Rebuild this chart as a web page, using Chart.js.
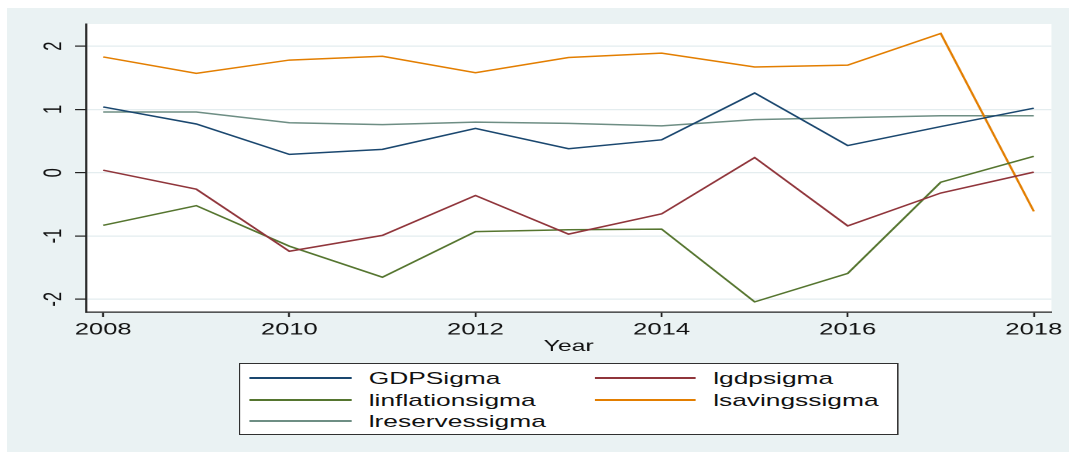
<!DOCTYPE html>
<html>
<head>
<meta charset="utf-8">
<script src="https://cdn.jsdelivr.net/npm/chart.js@4.4.1/dist/chart.umd.min.js"></script>
<style>
  html, body { margin: 0; padding: 0; background: #ffffff; overflow: hidden; }
  #wrap {
    position: absolute; left: 0; top: 0;
    width: 690px; height: 452px;
    transform-origin: 0 0;
    transform: scaleX(1.54928);
  }
  #chart { position: absolute; left: 0; top: 0; }
  #legend {
    position: absolute; left: 154px; top: 363px;
    width: 426.2px; height: 72px; box-sizing: border-box;
    background: #ffffff; border: 1px solid #303030;
    font-family: "Liberation Sans", Arial, sans-serif; font-size: 17px; color: #111;
  }
  .lg-line { position: absolute; height: 1.6px; }
  .lg-text { position: absolute; line-height: 21.6px; white-space: nowrap; }
</style>
</head>
<body>
<div id="wrap">
  <canvas id="chart" width="690" height="452"></canvas>
  <div id="legend"></div>
</div>
<script>
// ---- data ----
const years = [2008, 2009, 2010, 2011, 2012, 2013, 2014, 2015, 2016, 2017, 2018];
const gdpSigma        = [1.04, 0.77, 0.29, 0.37, 0.70, 0.38, 0.52, 1.26, 0.43, 0.73, 1.02];
const lgdpSigma       = [0.04, -0.26, -1.24, -0.99, -0.36, -0.97, -0.65, 0.24, -0.84, -0.32, 0.01];
const linflationSigma = [-0.83, -0.52, -1.16, -1.65, -0.93, -0.90, -0.89, -2.04, -1.59, -0.15, 0.26];
const lsavingsSigma   = [1.83, 1.57, 1.78, 1.84, 1.58, 1.82, 1.89, 1.67, 1.70, 2.20, -0.61];
const lreservesSigma  = [0.96, 0.96, 0.79, 0.76, 0.80, 0.78, 0.74, 0.84, 0.87, 0.90, 0.90];
const seriesNames = ["GDPSigma", "lgdpsigma", "linflationsigma", "lsavingssigma", "lreservessigma"];
const xTickValues = [2008, 2010, 2012, 2014, 2016, 2018];
const yTickValues = [-2, -1, 0, 1, 2];
const xAxisTitle = "Year";

const seriesValues = [gdpSigma, lgdpSigma, linflationSigma, lsavingsSigma, lreservesSigma];
const seriesColors = ["#1a476f", "#90353b", "#55752f", "#e37e00", "#6e8e84"];

const FONT = '"Liberation Sans", Arial, sans-serif';

const bgPlugin = {
  id: 'bg',
  beforeDraw(chart) {
    const {ctx, width, height, chartArea} = chart;
    ctx.save();
    ctx.fillStyle = '#ffffff';
    ctx.fillRect(0, 0, width, height);
    ctx.fillStyle = '#eaf2f3';
    ctx.fillRect(4.5, 8, width - 4.5, height - 8);
    ctx.fillStyle = '#ffffff';
    ctx.fillRect(chartArea.left, chartArea.top, chartArea.right - chartArea.left, chartArea.bottom - chartArea.top);
    ctx.restore();
  }
};

const datasets = seriesNames.map((name, i) => ({
  label: name,
  data: years.map((yr, j) => ({x: yr, y: seriesValues[i][j]})),
  borderColor: seriesColors[i],
  backgroundColor: seriesColors[i],
  borderWidth: 1.5,
  pointRadius: 0,
  tension: 0,
  fill: false
}));

const chart = new Chart(document.getElementById('chart'), {
  type: 'line',
  data: { datasets },
  plugins: [bgPlugin],
  options: {
    responsive: false,
    animation: false,
    devicePixelRatio: 2,
    layout: { padding: { left: 0, right: 11.3, top: 24, bottom: 96 } },
    plugins: { legend: { display: false }, tooltip: { enabled: false } },
    scales: {
      x: {
        type: 'linear',
        min: 2007.815, max: 2018.19,
        afterBuildTicks: s => { s.ticks = xTickValues.map(v => ({value: v})); },
        afterFit: s => { s.height = 44; },
        grid: { drawOnChartArea: false, tickLength: 5, tickColor: '#222', tickWidth: 1.2 },
        border: { display: true, color: '#222', width: 1.3 },
        ticks: { autoSkip: false, maxRotation: 0, padding: 3, color: '#111',
                 font: { family: FONT, size: 16.5 }, callback: v => String(v) },
        title: { display: true, text: xAxisTitle, color: '#111',
                 font: { family: FONT, size: 16 }, padding: { top: 0, bottom: 0 } }
      },
      y: {
        type: 'linear',
        min: -2.2, max: 2.35,
        afterBuildTicks: s => { s.ticks = yTickValues.map(v => ({value: v})); },
        afterFit: s => { s.width = 55.5; },
        grid: { color: '#e4edef', lineWidth: 1.2, tickLength: 7, tickColor: '#222', tickWidth: 1.2 },
        border: { display: true, color: '#222', width: 1.3 },
        ticks: { autoSkip: false, minRotation: 90, maxRotation: 90, crossAlign: 'center',
                 padding: 6.4, color: '#111', font: { family: FONT, size: 16.5 },
                 callback: v => String(v) }
      }
    }
  }
});

// legend built from the chart's datasets (two columns, row-major like the reference)
const legend = document.getElementById('legend');
const colLine = [[6.4, 65.2], [228.5, 65.7]];
const colText = [83, 305.3];
const rowLineTop = [13, 35, 56];
chart.data.datasets.forEach((ds, i) => {
  const r = Math.floor(i / 2), c = i % 2;
  const ln = document.createElement('div');
  ln.className = 'lg-line';
  ln.style.left = colLine[c][0] + 'px';
  ln.style.width = colLine[c][1] + 'px';
  ln.style.top = rowLineTop[r] + 'px';
  ln.style.background = ds.borderColor;
  legend.appendChild(ln);
  const tx = document.createElement('div');
  tx.className = 'lg-text';
  tx.style.left = colText[c] + 'px';
  tx.style.top = (rowLineTop[r] + 0.8 - 10.3) + 'px';
  tx.textContent = ds.label;
  legend.appendChild(tx);
});
</script>
</body>
</html>
